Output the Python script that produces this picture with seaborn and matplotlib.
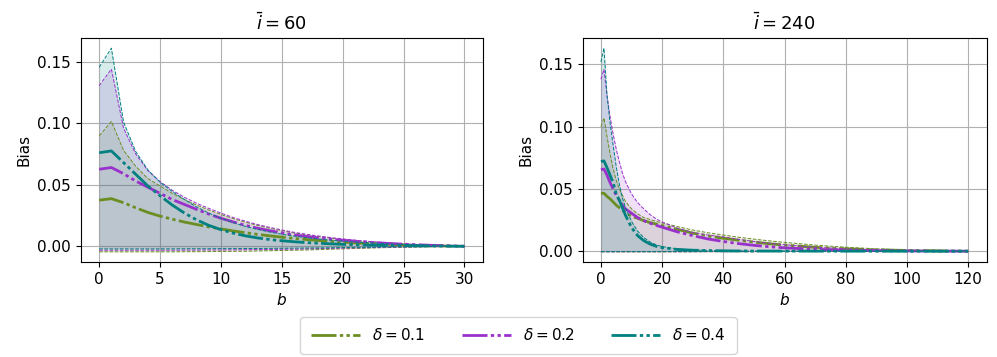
import numpy as np
import pandas as pd
import seaborn as sns
import matplotlib
matplotlib.use("Agg")
import matplotlib.pyplot as plt
from matplotlib.lines import Line2D

# ---- data ----
b_left = list(range(31))

mean_l_01 = [0.0375, 0.0387, 0.0354, 0.0313, 0.0275, 0.0245, 0.0220, 0.0197, 0.0177, 0.0158, 0.0141,
             0.0125, 0.0110, 0.0097, 0.0085, 0.0074, 0.0064, 0.0055, 0.0047, 0.0040, 0.0034,
             0.0028, 0.0023, 0.0019, 0.0015, 0.0011, 0.0008, 0.0005, 0.0003, 0.0001, 0.0]
mean_l_02 = [0.0626, 0.0640, 0.0590, 0.0530, 0.0480, 0.0430, 0.0380, 0.0340, 0.0300, 0.0262, 0.0228,
             0.0198, 0.0170, 0.0147, 0.0127, 0.0109, 0.0093, 0.0080, 0.0068, 0.0058, 0.0049,
             0.0041, 0.0034, 0.0028, 0.0022, 0.0017, 0.0013, 0.0009, 0.0006, 0.0003, 0.0]
mean_l_04 = [0.0760, 0.0775, 0.0680, 0.0585, 0.0490, 0.0410, 0.0335, 0.0270, 0.0215, 0.0170, 0.0135,
             0.0107, 0.0085, 0.0068, 0.0055, 0.0045, 0.0037, 0.0030, 0.0025, 0.0020, 0.0016,
             0.0013, 0.0010, 0.0008, 0.0006, 0.0005, 0.0004, 0.0003, 0.0002, 0.0001, 0.0]

hi_l_01 = [0.0897, 0.1015, 0.0780, 0.0650, 0.0550, 0.0490, 0.0430, 0.0380, 0.0335, 0.0295, 0.0258,
           0.0225, 0.0196, 0.0170, 0.0147, 0.0127, 0.0109, 0.0093, 0.0079, 0.0067, 0.0056,
           0.0046, 0.0038, 0.0030, 0.0024, 0.0018, 0.0013, 0.0009, 0.0005, 0.0002, 0.0]
hi_l_02 = [0.1305, 0.1440, 0.0960, 0.0750, 0.0615, 0.0525, 0.0455, 0.0398, 0.0350, 0.0308, 0.0270,
           0.0234, 0.0204, 0.0177, 0.0154, 0.0133, 0.0114, 0.0098, 0.0084, 0.0071, 0.0060,
           0.0050, 0.0041, 0.0033, 0.0026, 0.0020, 0.0015, 0.0010, 0.0006, 0.0003, 0.0]
hi_l_04 = [0.1455, 0.1610, 0.1010, 0.0770, 0.0620, 0.0520, 0.0445, 0.0380, 0.0320, 0.0270, 0.0228,
           0.0192, 0.0162, 0.0137, 0.0116, 0.0098, 0.0083, 0.0070, 0.0059, 0.0050, 0.0042,
           0.0035, 0.0029, 0.0024, 0.0019, 0.0015, 0.0011, 0.0008, 0.0005, 0.0002, 0.0]

lo_l_01 = [-0.0045, -0.0045, -0.0045, -0.0045, -0.0045, -0.0045, -0.0045, -0.0044, -0.0044, -0.0043, -0.0042,
           -0.0041, -0.0040, -0.0038, -0.0036, -0.0034, -0.0032, -0.0030, -0.0027, -0.0024, -0.0021,
           -0.0018, -0.0015, -0.0012, -0.0010, -0.0008, -0.0006, -0.0004, -0.0002, -0.0001, 0.0]
lo_l_02 = [-0.0032, -0.0032, -0.0032, -0.0032, -0.0032, -0.0032, -0.0032, -0.0031, -0.0031, -0.0030, -0.0030,
           -0.0029, -0.0028, -0.0027, -0.0026, -0.0024, -0.0023, -0.0021, -0.0019, -0.0017, -0.0015,
           -0.0013, -0.0011, -0.0009, -0.0007, -0.0006, -0.0004, -0.0003, -0.0002, -0.0001, 0.0]
lo_l_04 = [-0.0021, -0.0021, -0.0021, -0.0021, -0.0021, -0.0021, -0.0021, -0.0020, -0.0020, -0.0020, -0.0019,
           -0.0019, -0.0018, -0.0018, -0.0017, -0.0016, -0.0015, -0.0014, -0.0013, -0.0012, -0.0010,
           -0.0009, -0.0008, -0.0006, -0.0005, -0.0004, -0.0003, -0.0002, -0.0001, -0.0001, 0.0]

b_right = [0, 1, 2, 3, 4, 5, 6, 7, 8, 10, 12, 14, 16, 18, 20, 25, 30, 35, 40, 45, 50, 55, 60,
           70, 80, 90, 100, 110, 120]

mean_r_01 = [0.0465, 0.0465, 0.0440, 0.0420, 0.0395, 0.0370, 0.0350, 0.0330, 0.0310, 0.0280, 0.0265,
             0.0245, 0.0230, 0.0218, 0.0206, 0.0175, 0.0145, 0.0122, 0.0104, 0.0088, 0.0073, 0.0060,
             0.0049, 0.0031, 0.0019, 0.0011, 0.0006, 0.0003, 0.0]
mean_r_02 = [0.0655, 0.0660, 0.0610, 0.0550, 0.0500, 0.0450, 0.0410, 0.0370, 0.0340, 0.0305, 0.0270,
             0.0245, 0.0225, 0.0208, 0.0193, 0.0155, 0.0125, 0.0098, 0.0078, 0.0061, 0.0047, 0.0036,
             0.0027, 0.0015, 0.0008, 0.0004, 0.0002, 0.0001, 0.0]
mean_r_04 = [0.0720, 0.0725, 0.0670, 0.0610, 0.0550, 0.0460, 0.0410, 0.0350, 0.0290, 0.0190, 0.0125,
             0.0085, 0.0058, 0.0040, 0.0029, 0.0014, 0.0008, 0.0005, 0.0003, 0.0002, 0.00015, 0.0001,
             0.0001, 0.00005, 0.00003, 0.00002, 0.00001, 0.0, 0.0]

hi_r_01 = [0.1000, 0.1070, 0.0920, 0.0780, 0.0660, 0.0570, 0.0500, 0.0450, 0.0400, 0.0340, 0.0300,
           0.0270, 0.0255, 0.0240, 0.0228, 0.0198, 0.0170, 0.0148, 0.0130, 0.0112, 0.0097, 0.0083,
           0.0071, 0.0049, 0.0032, 0.0019, 0.0010, 0.0004, 0.0]
hi_r_02 = [0.1380, 0.1460, 0.1250, 0.1080, 0.0940, 0.0820, 0.0720, 0.0630, 0.0560, 0.0460, 0.0390,
           0.0340, 0.0295, 0.0260, 0.0235, 0.0185, 0.0150, 0.0130, 0.0115, 0.0095, 0.0078, 0.0064,
           0.0052, 0.0032, 0.0019, 0.0010, 0.0005, 0.0002, 0.0]
hi_r_04 = [0.1520, 0.1630, 0.1250, 0.1030, 0.0850, 0.0680, 0.0540, 0.0430, 0.0350, 0.0240, 0.0160,
           0.0110, 0.0075, 0.0052, 0.0037, 0.0018, 0.0010, 0.0006, 0.0004, 0.0003, 0.0002, 0.00015,
           0.0001, 0.0001, 0.00005, 0.0, 0.0, 0.0, 0.0]

lo_r_01 = [-0.0005, -0.0005, -0.0005, -0.0005, -0.0005, -0.0005, -0.0005, -0.0005, -0.0005, -0.0005, -0.0005,
           -0.0005, -0.0005, -0.0005, -0.0005, -0.0005, -0.0005, -0.0004, -0.0004, -0.0004, -0.0004, -0.0003,
           -0.0003, -0.0002, -0.0002, -0.0001, -0.0001, 0.0, 0.0]
lo_r_02 = [-0.0004, -0.0004, -0.0004, -0.0004, -0.0004, -0.0004, -0.0004, -0.0004, -0.0004, -0.0004, -0.0004,
           -0.0004, -0.0004, -0.0004, -0.0004, -0.0004, -0.0004, -0.0003, -0.0003, -0.0003, -0.0003, -0.0002,
           -0.0002, -0.0002, -0.0001, -0.0001, 0.0, 0.0, 0.0]
lo_r_04 = [-0.0003, -0.0003, -0.0003, -0.0003, -0.0003, -0.0003, -0.0003, -0.0003, -0.0003, -0.0003, -0.0003,
           -0.0003, -0.0003, -0.0003, -0.0002, -0.0002, -0.0002, -0.0002, -0.0002, -0.0001, -0.0001, -0.0001,
           -0.0001, 0.0, 0.0, 0.0, 0.0, 0.0, 0.0]

deltas = ["0.1", "0.2", "0.4"]
colors = ["#6b8e23", "#9932cc", "#008080"]
titles = [r"$\bar{i} = 60$", r"$\bar{i} = 240$"]

panels = [
    (b_left, [mean_l_01, mean_l_02, mean_l_04], [lo_l_01, lo_l_02, lo_l_04], [hi_l_01, hi_l_02, hi_l_04],
     [0, 5, 10, 15, 20, 25, 30]),
    (b_right, [mean_r_01, mean_r_02, mean_r_04], [lo_r_01, lo_r_02, lo_r_04], [hi_r_01, hi_r_02, hi_r_04],
     [0, 20, 40, 60, 80, 100, 120]),
]

# ---- plot ----
plt.rcParams["font.size"] = 11
mean_style = (0, (9, 1.2, 1.2, 1.2, 1.2, 1.2))

fig = plt.figure(figsize=(9.97, 3.57), dpi=100)
ax_l = fig.add_axes([0.0812, 0.2661, 0.4029, 0.6275])
ax_r = fig.add_axes([0.5843, 0.2661, 0.4052, 0.6275])

for ax, (b, means, los, his, xt), title in zip([ax_l, ax_r], panels, titles):
    for d, c, m, lo, hi in zip(deltas, colors, means, los, his):
        ax.fill_between(b, lo, hi, color=c, alpha=0.15, linewidth=0)
        sns.lineplot(x=b, y=hi, ax=ax, color=c, linewidth=0.7, linestyle="--")
        sns.lineplot(x=b, y=lo, ax=ax, color=c, linewidth=0.7, linestyle="--")
        sns.lineplot(x=b, y=m, ax=ax, color=c, linewidth=2, linestyle=mean_style)
    ax.set_xticks(xt)
    ax.set_yticks([0.0, 0.05, 0.10, 0.15])
    ax.grid(True, color="#b0b0b0", linewidth=0.8)
    ax.set_axisbelow(True)
    ax.set_title(title, fontsize=13)
    ax.set_xlabel("$b$")
    ax.set_ylabel("Bias")

handles = [Line2D([0], [0], color=c, linewidth=2, linestyle=mean_style) for c in colors]
labels = [rf"$\delta = {d}$" for d in deltas]
fig.legend(handles, labels, loc="lower center", bbox_to_anchor=(0.52, 0.0), ncol=3,
           handlelength=3.2, columnspacing=2.4, borderpad=0.7, borderaxespad=0.2, fontsize=11)

fig.savefig("out.png", dpi=100)
